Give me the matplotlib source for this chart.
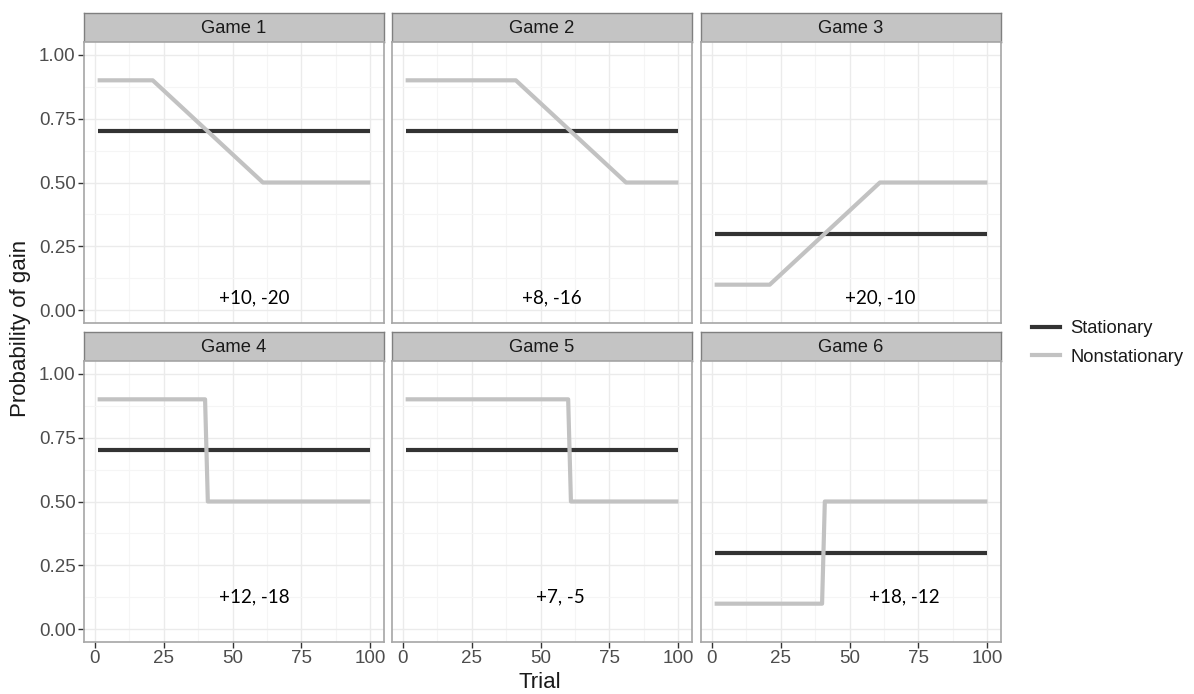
import numpy as np
import matplotlib.pyplot as plt
from matplotlib.lines import Line2D

plt.rcParams['font.family'] = ['Liberation Sans', 'DejaVu Sans']

games = ['Game 1', 'Game 2', 'Game 3', 'Game 4', 'Game 5', 'Game 6']

# probability of gain per game: stationary option is flat,
# nonstationary option is given by its breakpoints (trial, prob)
stationary = [0.7, 0.7, 0.3, 0.7, 0.7, 0.3]
nonstat_trials = [
    [1, 21, 61, 100],
    [1, 41, 81, 100],
    [1, 21, 61, 100],
    [1, 40, 41, 100],
    [1, 60, 61, 100],
    [1, 40, 41, 100],
]
nonstat_probs = [
    [0.9, 0.9, 0.5, 0.5],
    [0.9, 0.9, 0.5, 0.5],
    [0.1, 0.1, 0.5, 0.5],
    [0.9, 0.9, 0.5, 0.5],
    [0.9, 0.9, 0.5, 0.5],
    [0.1, 0.1, 0.5, 0.5],
]
payoffs = ['+10, -20', '+8, -16', '+20, -10', '+12, -18', '+7, -5', '+18, -12']
payoff_x = [58, 54, 61, 58, 57, 70]
payoff_y = [0.05, 0.05, 0.05, 0.125, 0.125, 0.125]

W, H = 1194, 694
fig = plt.figure(figsize=(W / 100, H / 100), dpi=100)

col_left = [84, 392, 701]
panel_w = 300
row_strip = [13, 332]
strip_h = 29
panel_h = 281

dark = '#333333'
light = '#c2c2c2'
txt_col = '#4d4d4d'


def rect(x, y, w, h):
    return [x / W, 1 - (y + h) / H, w / W, h / H]


for i, g in enumerate(games):
    r, c = divmod(i, 3)
    x0 = col_left[c]
    ys = row_strip[r]

    # strip header
    sax = fig.add_axes(rect(x0, ys, panel_w, strip_h))
    sax.set_facecolor('#c4c4c4')
    sax.set_xticks([])
    sax.set_yticks([])
    for sp in sax.spines.values():
        sp.set_color('#7f7f7f')
        sp.set_linewidth(1.0)
    sax.text(0.5, 0.47, g, ha='center', va='center', fontsize=13.2,
             color='#1a1a1a', transform=sax.transAxes)

    ax = fig.add_axes(rect(x0, ys + strip_h, panel_w, panel_h))
    ax.set_xlim(-3.95, 104.95)
    ax.set_ylim(-0.05, 1.05)
    ax.set_xticks([0, 25, 50, 75, 100])
    ax.set_xticks([12.5, 37.5, 62.5, 87.5], minor=True)
    ax.set_yticks([0, 0.25, 0.5, 0.75, 1.0])
    ax.set_yticks([0.125, 0.375, 0.625, 0.875], minor=True)
    ax.grid(which='major', color='#ebebeb', linewidth=1.0)
    ax.grid(which='minor', color='#f5f5f5', linewidth=0.8)
    ax.set_axisbelow(True)
    for sp in ax.spines.values():
        sp.set_color('#a6a6a6')
        sp.set_linewidth(1.2)

    ax.tick_params(which='minor', length=0)
    ax.tick_params(which='major', length=4, width=1, color='#333333',
                   labelsize=13.5, labelcolor=txt_col, pad=2)
    if c == 0:
        ax.set_yticklabels(['0.00', '0.25', '0.50', '0.75', '1.00'])
    else:
        ax.tick_params(axis='y', length=0, labelleft=False)
    if r == 1:
        ax.set_xticklabels(['0', '25', '50', '75', '100'])
    else:
        ax.tick_params(axis='x', length=0, labelbottom=False)

    ax.plot([1, 100], [stationary[i], stationary[i]], color=dark, lw=3.0,
            solid_capstyle='butt')
    ax.plot(nonstat_trials[i], nonstat_probs[i], color=light, lw=3.0,
            solid_capstyle='butt')
    ax.text(payoff_x[i], payoff_y[i], payoffs[i], ha='center', va='center',
            fontsize=13.5, color='black', family=['Lato', 'DejaVu Sans'])

fig.text(540 / W, 1 - 682 / H, 'Trial', ha='center', va='center',
         fontsize=16, color='#1a1a1a')
fig.text(21 / W, 1 - 328 / H, 'Probability of gain', ha='center',
         va='center', rotation=90, fontsize=16, color='#1a1a1a')

# legend on the right
handles = [Line2D([0], [0], color=dark, lw=3.0),
           Line2D([0], [0], color=light, lw=3.0)]
fig.legend(handles, ['Stationary', 'Nonstationary'], loc='center left',
           bbox_to_anchor=(1016 / W, 1 - 343 / H), frameon=False,
           fontsize=13.2, handlelength=1.5, handletextpad=0.55,
           labelspacing=0.62, labelcolor='#1a1a1a')

fig.savefig('out.png', dpi=100)
